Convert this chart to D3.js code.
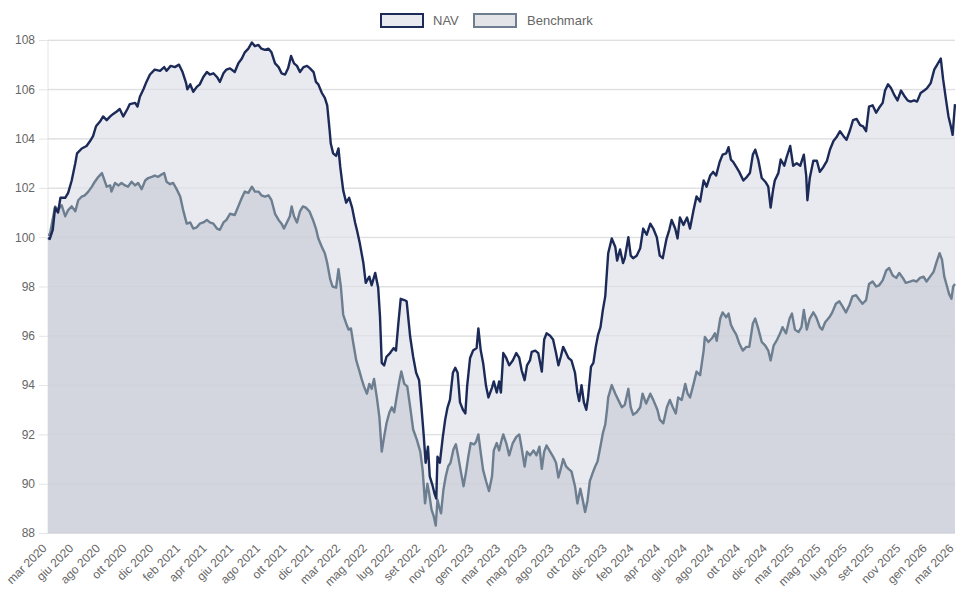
<!DOCTYPE html>
<html><head><meta charset="utf-8">
<script src="https://cdn.jsdelivr.net/npm/d3@7"></script>
<style>body{margin:0;background:#fff}svg{display:block;font-family:"Liberation Sans",Arial,Helvetica,sans-serif}</style>
</head><body><svg id="c" width="956" height="595"></svg>
<script>
// ---- data ----
const xLabels = ["mar 2020","giu 2020","ago 2020","ott 2020","dic 2020","feb 2021","apr 2021","giu 2021","ago 2021","ott 2021","dic 2021","mar 2022","mag 2022","lug 2022","set 2022","nov 2022","gen 2023","mar 2023","mag 2023","ago 2023","ott 2023","dic 2023","feb 2024","apr 2024","giu 2024","ago 2024","ott 2024","dic 2024","mar 2025","mag 2025","lug 2025","set 2025","nov 2025","gen 2026","mar 2026"];
const labelStep = 45; // observations between shown labels
const yTicks = [88,90,92,94,96,98,100,102,104,106,108];
const seriesNames = ["NAV","Benchmark"];
// [observation index, value]
const navData = [[0,99.97],[3,99.93],[8,100.3],[12,101.2],[17,101.0],[21,101.6],[29,101.6],[34,101.8],[40,102.3],[46,103.0],[49,103.4],[57,103.6],[65,103.7],[71,103.9],[76,104.1],[81,104.5],[88,104.7],[93,104.9],[99,104.75],[105,104.9],[110,105.0],[116,105.1],[121,105.2],[127,104.9],[134,105.2],[138,105.4],[147,105.45],[151,105.3],[155,105.7],[161,106.0],[166,106.3],[172,106.6],[180,106.8],[189,106.75],[196,106.9],[200,106.75],[207,106.95],[214,106.9],[221,107.0],[227,106.7],[233,106.25],[235,106.0],[240,106.2],[245,105.9],[251,106.1],[256,106.2],[262,106.5],[268,106.7],[273,106.6],[279,106.65],[285,106.5],[290,106.3],[296,106.65],[301,106.8],[307,106.85],[315,106.7],[321,107.05],[327,107.25],[332,107.5],[338,107.65],[344,107.9],[349,107.75],[355,107.8],[360,107.65],[366,107.6],[372,107.65],[377,107.5],[383,107.05],[389,106.9],[394,106.65],[400,106.6],[405,106.85],[410,107.35],[415,107.05],[420,106.95],[425,106.7],[431,106.9],[437,106.95],[442,106.85],[448,106.7],[452,106.3],[456,106.2],[462,105.85],[467,105.65],[471,105.35],[475,104.35],[477,103.8],[481,103.4],[486,103.3],[490,103.6],[493,102.85],[498,101.9],[503,101.4],[508,101.6],[513,101.2],[518,100.6],[521,100.3],[526,99.75],[532,98.95],[536,98.15],[542,98.4],[546,98.05],[552,98.55],[557,97.95],[560,96.8],[563,94.9],[567,94.8],[571,95.15],[577,95.3],[583,95.5],[587,95.4],[591,96.5],[595,97.5],[601,97.45],[605,97.4],[611,95.95],[616,95.15],[621,94.5],[626,94.2],[630,93.1],[634,91.9],[637,90.85],[641,91.5],[644,90.3],[649,89.9],[652,89.6],[655,89.4],[657,91.1],[661,90.85],[666,91.9],[670,92.6],[674,93.1],[678,93.4],[683,94.5],[687,94.7],[691,94.5],[695,93.3],[700,93.0],[704,92.85],[707,93.95],[712,95.1],[717,95.4],[723,95.5],[726,96.3],[730,95.4],[734,94.9],[739,93.95],[743,93.5],[749,93.9],[752,94.15],[757,93.7],[761,94.15],[764,93.7],[768,95.3],[773,95.1],[778,94.8],[784,95.0],[790,95.3],[795,95.1],[799,94.6],[804,94.2],[808,94.8],[813,95.0],[816,95.35],[822,95.4],[827,95.3],[833,94.55],[837,95.85],[841,96.1],[847,96.0],[852,95.85],[857,95.3],[861,94.8],[865,95.15],[869,95.55],[874,95.3],[878,95.1],[883,95.0],[889,94.5],[893,93.7],[896,93.35],[900,94.0],[904,93.3],[908,93.0],[911,93.5],[916,94.75],[920,94.9],[924,95.55],[928,96.05],[932,96.35],[936,97.05],[940,97.6],[943,98.65],[945,99.35],[951,99.95],[957,99.6],[960,99.05],[965,99.5],[970,98.95],[973,99.15],[979,100.0],[983,99.25],[987,99.15],[993,99.25],[999,99.55],[1004,100.35],[1010,100.1],[1016,100.55],[1021,100.35],[1027,100.0],[1032,99.25],[1037,99.15],[1043,99.9],[1048,100.3],[1052,100.7],[1058,100.35],[1062,99.95],[1066,100.8],[1072,100.5],[1078,100.8],[1083,100.35],[1089,101.1],[1094,101.65],[1100,101.45],[1106,102.3],[1111,102.05],[1117,102.5],[1122,102.65],[1127,102.5],[1133,103.05],[1138,103.35],[1144,103.4],[1148,103.65],[1152,103.15],[1156,103.05],[1161,102.85],[1166,102.65],[1173,102.3],[1179,102.45],[1184,102.6],[1189,103.35],[1193,103.55],[1198,103.15],[1204,102.4],[1210,102.25],[1215,102.05],[1219,101.2],[1223,101.9],[1226,102.3],[1232,102.6],[1236,103.15],[1242,102.9],[1246,103.25],[1252,103.7],[1257,102.9],[1263,103.0],[1269,102.9],[1275,103.35],[1279,102.5],[1281,101.5],[1285,102.4],[1291,103.1],[1297,103.1],[1302,102.65],[1308,102.85],[1314,103.1],[1319,103.55],[1325,103.9],[1330,104.05],[1336,104.3],[1342,104.1],[1347,103.95],[1353,104.35],[1358,104.75],[1364,104.8],[1370,104.55],[1375,104.5],[1380,104.3],[1385,105.3],[1391,105.35],[1397,105.05],[1402,105.25],[1408,105.45],[1412,105.95],[1417,106.2],[1422,106.05],[1428,105.75],[1433,105.55],[1439,105.95],[1444,105.75],[1450,105.55],[1455,105.5],[1461,105.55],[1466,105.5],[1472,105.85],[1478,105.95],[1483,106.05],[1489,106.25],[1495,106.8],[1500,107.0],[1506,107.25],[1510,106.4],[1515,105.55],[1519,104.9],[1523,104.5],[1526,104.15],[1529,105.1],[1530,105.4]];
const benchData = [[0,100.1],[3,100.1],[12,101.25],[17,101.1],[23,101.3],[29,100.85],[34,101.1],[40,101.25],[46,101.05],[51,101.5],[57,101.65],[62,101.7],[68,101.85],[74,102.05],[79,102.25],[85,102.45],[91,102.6],[94,102.4],[99,102.05],[105,102.1],[107,101.85],[113,102.2],[119,102.1],[124,102.2],[130,102.1],[135,102.05],[141,102.25],[147,102.1],[152,102.2],[158,101.95],[164,102.3],[169,102.4],[175,102.45],[180,102.5],[186,102.45],[192,102.55],[196,102.6],[200,102.25],[206,102.15],[211,102.2],[217,101.95],[223,101.65],[228,101.1],[234,100.55],[240,100.6],[245,100.35],[251,100.4],[256,100.55],[262,100.6],[268,100.7],[273,100.6],[279,100.55],[285,100.35],[290,100.3],[296,100.6],[301,100.7],[307,100.95],[315,100.9],[321,101.25],[327,101.6],[332,101.85],[338,101.8],[344,102.05],[349,101.85],[355,101.85],[360,101.7],[366,101.65],[372,101.7],[377,101.5],[383,100.95],[389,100.7],[394,100.55],[398,100.35],[403,100.6],[408,100.85],[411,101.25],[415,100.85],[420,100.6],[425,101.05],[430,101.25],[435,101.2],[441,101.05],[447,100.7],[452,100.35],[456,99.95],[462,99.6],[467,99.35],[471,98.95],[476,98.3],[480,98.0],[486,97.95],[490,98.7],[494,98.0],[498,96.85],[503,96.5],[507,96.25],[511,96.3],[515,95.7],[520,95.0],[525,94.6],[529,94.25],[533,93.95],[538,93.65],[542,94.05],[546,93.85],[550,94.25],[555,93.45],[559,92.7],[563,91.3],[567,91.9],[571,92.45],[576,92.9],[580,93.1],[584,92.9],[588,93.5],[593,94.2],[596,94.55],[601,94.05],[606,93.95],[611,93.1],[616,92.2],[622,91.8],[628,91.3],[632,90.55],[636,89.2],[640,90.0],[643,89.6],[647,88.95],[651,88.65],[654,88.3],[657,89.35],[660,89.05],[663,88.8],[667,89.75],[671,90.3],[675,90.7],[679,90.85],[684,91.4],[688,91.6],[692,91.1],[696,90.55],[701,89.9],[705,90.45],[709,91.1],[713,91.65],[719,91.6],[722,91.7],[726,92.0],[730,91.25],[734,90.55],[739,90.1],[744,89.7],[749,90.3],[752,91.35],[757,91.65],[761,91.35],[765,91.75],[768,92.0],[773,91.65],[778,91.15],[784,91.65],[790,91.9],[795,92.0],[799,91.45],[804,90.7],[808,91.3],[813,91.15],[819,91.35],[824,91.15],[829,91.5],[833,90.6],[837,91.3],[841,91.55],[847,91.3],[852,91.1],[857,90.85],[861,90.25],[865,90.6],[869,91.0],[874,90.7],[878,90.6],[883,90.5],[889,89.9],[893,89.2],[898,89.8],[902,89.35],[906,88.85],[910,89.3],[914,90.1],[919,90.45],[923,90.7],[927,90.9],[931,91.4],[936,92.05],[940,92.4],[943,93.0],[945,93.5],[951,94.0],[957,93.65],[962,93.4],[968,93.1],[973,93.2],[979,93.85],[983,93.1],[987,92.8],[993,92.9],[999,93.1],[1003,93.65],[1009,93.25],[1016,93.65],[1021,93.4],[1028,93.0],[1032,92.6],[1038,92.45],[1044,93.1],[1049,93.4],[1054,93.1],[1059,92.85],[1063,93.5],[1069,93.4],[1075,94.05],[1079,93.65],[1083,93.5],[1089,94.05],[1094,94.55],[1100,94.4],[1106,95.4],[1108,95.95],[1114,95.75],[1120,95.9],[1125,96.1],[1128,95.8],[1134,96.7],[1138,96.95],[1144,96.75],[1148,96.9],[1152,96.45],[1156,96.25],[1161,96.05],[1166,95.7],[1172,95.4],[1178,95.55],[1183,95.55],[1189,96.5],[1193,96.7],[1198,96.3],[1204,95.75],[1210,95.6],[1215,95.4],[1219,95.0],[1224,95.6],[1229,95.8],[1235,96.1],[1239,96.35],[1245,96.1],[1251,96.7],[1255,96.9],[1260,96.25],[1266,96.15],[1271,96.35],[1275,97.05],[1280,96.25],[1285,96.7],[1291,96.95],[1296,96.75],[1302,96.35],[1306,96.25],[1311,96.55],[1318,96.75],[1323,96.95],[1329,97.3],[1335,97.4],[1340,97.2],[1346,96.95],[1352,97.25],[1357,97.6],[1363,97.65],[1369,97.45],[1374,97.3],[1380,97.45],[1385,98.1],[1391,98.2],[1397,98.0],[1402,98.05],[1408,98.25],[1414,98.65],[1419,98.75],[1425,98.45],[1431,98.35],[1436,98.55],[1442,98.35],[1447,98.15],[1454,98.2],[1460,98.25],[1465,98.2],[1471,98.35],[1477,98.4],[1482,98.2],[1488,98.4],[1494,98.6],[1499,99.0],[1504,99.35],[1508,99.1],[1512,98.4],[1516,98.05],[1520,97.7],[1524,97.5],[1527,98.0],[1530,98.1]];

// ---- chart ----
const svg = d3.select("#c");
const pL = 48, pR = 955, pT = 40, pB = 533;
const x = d3.scaleLinear().domain([0, (xLabels.length - 1) * labelStep]).range([pL, pR]);
const y = d3.scaleLinear().domain([88, 108]).range([pB, pT]);
const textCol = "#666";
const navLine = "#1c2a58", navFill = "#e9eaef";
const benchLine = "#6c7e8f", benchFill = "#d3d6de";

// grid + y labels
const yAxis = d3.axisLeft(y).tickValues(yTicks).tickSize(-(pR - pL + 9)).tickPadding(4).tickFormat(d3.format("d"));
const gy = svg.append("g").attr("transform", `translate(${pL - 9},0)`).call(yAxis);
gy.select(".domain").remove();
gy.selectAll(".tick line").attr("stroke", "#e4e4e4").attr("stroke-width", 1);
gy.selectAll(".tick text").attr("fill", textCol).attr("font-size", 12).attr("x", -4)
  .attr("font-family", '"Liberation Sans",Arial,sans-serif');
svg.append("line").attr("x1", pL).attr("x2", pL).attr("y1", pT).attr("y2", pB)
  .attr("stroke", "#e4e4e4");

// areas and lines
const area = d3.area().x(d => x(d[0])).y0(y(88)).y1(d => y(d[1]));
const line = d3.line().x(d => x(d[0])).y(d => y(d[1]));
svg.append("path").datum(navData).attr("d", area).attr("fill", navFill);
svg.append("path").datum(benchData).attr("d", area).attr("fill", benchFill);
svg.append("g").selectAll("line").data(yTicks).join("line")
  .attr("x1", pL).attr("x2", pR).attr("y1", d => y(d)).attr("y2", d => y(d))
  .attr("stroke", "#c9ccd3").attr("stroke-opacity", 0.45);
svg.append("path").datum(benchData).attr("d", line).attr("fill", "none")
  .attr("stroke", benchLine).attr("stroke-width", 2.4).attr("stroke-linejoin", "round");
svg.append("path").datum(navData).attr("d", line).attr("fill", "none")
  .attr("stroke", navLine).attr("stroke-width", 2.4).attr("stroke-linejoin", "round");

// x labels (rotated, text end at tick)
const xg = svg.append("g");
xLabels.forEach((lab, i) => {
  const px = x(i * labelStep);
  xg.append("text").text(lab)
    .attr("transform", `translate(${px - 0.5},${pB + 16}) rotate(-45)`)
    .attr("text-anchor", "end").attr("font-size", 12).attr("fill", textCol);
});

// legend
const legend = [
  {name: seriesNames[0], stroke: navLine, fill: navFill, bx: 381, tx: 433},
  {name: seriesNames[1], stroke: benchLine, fill: "#e2e4e8", bx: 474, tx: 527}
];
legend.forEach(l => {
  svg.append("rect").attr("x", l.bx).attr("y", 14).attr("width", 42).attr("height", 13)
    .attr("fill", l.fill).attr("stroke", l.stroke).attr("stroke-width", 2);
  svg.append("text").attr("x", l.tx).attr("y", 25).text(l.name)
    .attr("font-size", 13).attr("fill", textCol);
});
</script></body></html>
